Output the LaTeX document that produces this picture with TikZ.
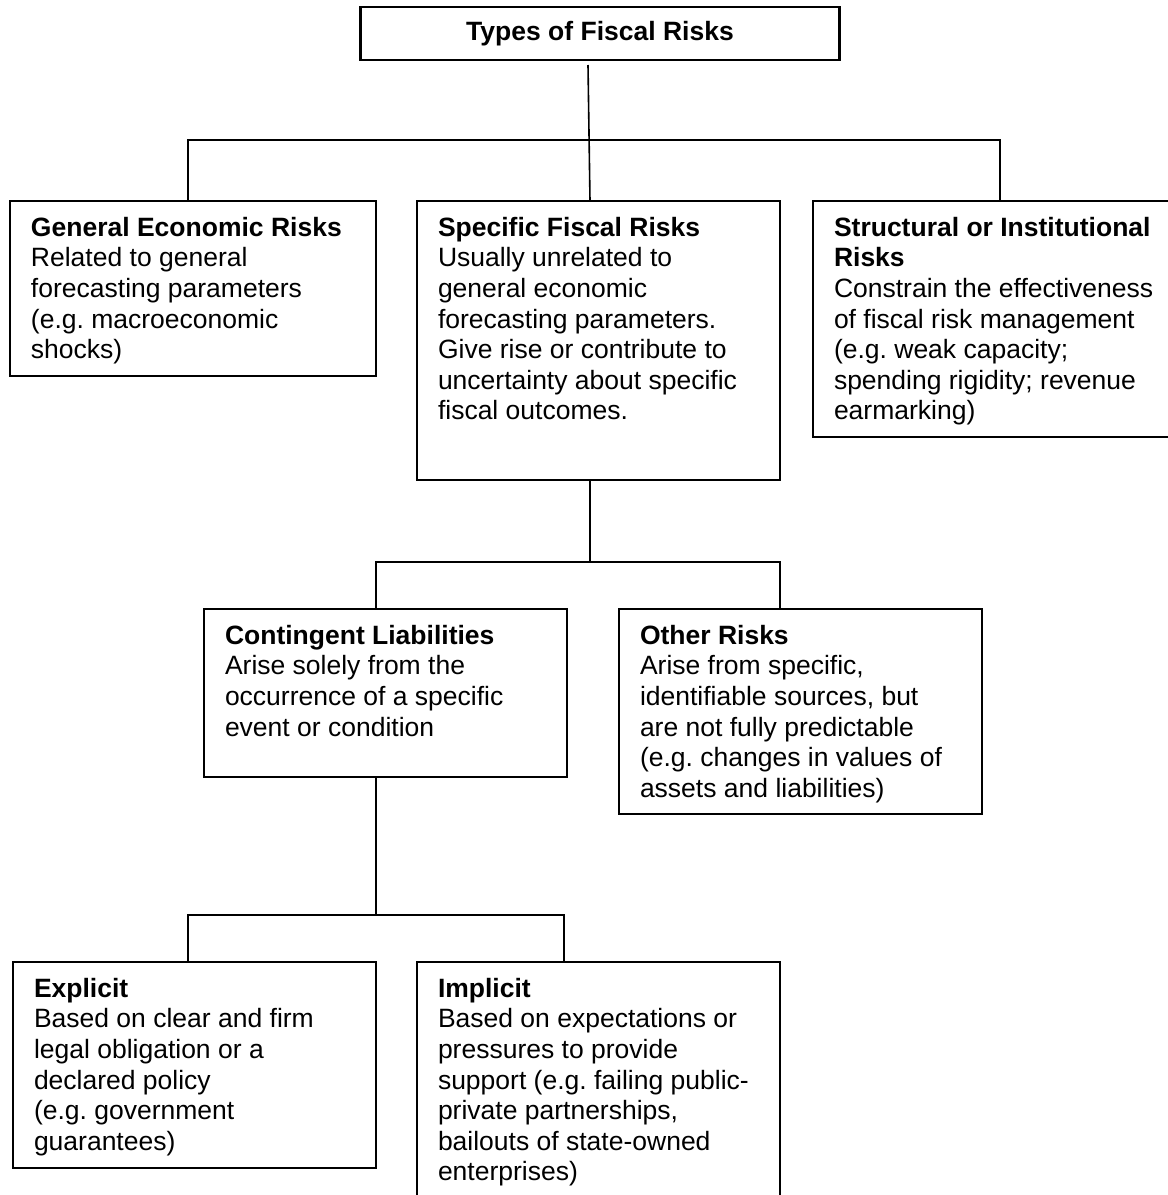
\documentclass[tikz,border=0pt]{standalone}
\usepackage{fontspec}
\setmainfont{Liberation Sans}
\usetikzlibrary{positioning, calc}
\frenchspacing

% box text: height, width, bold heading, body
\newcommand{\riskbody}[4]{\parbox[t][#1][t]{#2}{\raggedright\textbf{#3}\\#4}}

\begin{document}
\begin{tikzpicture}[
    x=1pt, y=1pt,
    font=\fontsize{13.25pt}{15.3pt}\selectfont,
    titlebox/.style={rectangle, draw, line width=1.1pt, outer sep=0pt, minimum width=239.5pt, minimum height=26.5pt, font=\fontsize{13.25pt}{15.3pt}\selectfont\bfseries},
    riskbox/.style={rectangle, draw, line width=1.1pt, outer sep=0pt, anchor=north west, inner xsep=10.5pt, inner ysep=8pt},
    link/.style={draw, line width=0.8pt}
]
    \fill[white] (0,0) rectangle (584,-597.5);
    \useasboundingbox (0,0) rectangle (584,-597.5);

    % Nodes
    \node[titlebox] (types) at (300,-16.75) {Types of Fiscal Risks};
    \node[riskbox, below=70.5pt of types, xshift=-0.75pt] (specific)
        {\riskbody{123.5pt}{160.5pt}{Specific Fiscal Risks}{Usually unrelated to\\general economic\\forecasting parameters.\\Give rise or contribute to\\uncertainty about specific\\fiscal outcomes.}};
    \node[riskbox, anchor=north east] (general) at ([xshift=-20.5pt]specific.north west)
        {\riskbody{71.5pt}{162pt}{General Economic Risks}{Related to general\\forecasting parameters\\(e.g. macroeconomic\\shocks)}};
    \node[riskbox] (structural) at ([xshift=16.5pt]specific.north east)
        {\riskbody{102pt}{169pt}{Structural or Institutional\\Risks}{Constrain the effectiveness\\of fiscal risk management\\(e.g. weak capacity;\\spending rigidity; revenue\\earmarking)}};
    \node[riskbox] (contingent) at ([xshift=-106.5pt, yshift=-64.5pt]specific.south west)
        {\riskbody{68pt}{160.5pt}{Contingent Liabilities}{Arise solely from the\\occurrence of a specific\\event or condition}};
    \node[riskbox] (other) at ([xshift=26pt]contingent.north east)
        {\riskbody{86.5pt}{160.5pt}{Other Risks}{Arise from specific,\\identifiable sources, but\\are not fully predictable\\(e.g. changes in values of\\assets and liabilities)}};
    \node[riskbox] (explicit) at ([xshift=-95.5pt, yshift=-92.5pt]contingent.south west)
        {\riskbody{87pt}{160.5pt}{Explicit}{Based on clear and firm\\legal obligation or a\\declared policy\\(e.g. government\\guarantees)}};
    \node[riskbox] (implicit) at ([xshift=20.5pt]explicit.north east)
        {\riskbody{114pt}{160.5pt}{Implicit}{Based on expectations or\\pressures to provide\\support (e.g. failing public-\\private partnerships,\\bailouts of state-owned\\enterprises)}};

    % Bus points
    \coordinate (topbus) at ([yshift=-40pt]types.south);
    \coordinate (midbus) at ([xshift=86.5pt, yshift=-41pt]specific.south west);
    \coordinate (lowbus) at ([xshift=86pt, yshift=-69pt]contingent.south west);

    % Lines
    \draw[link] ([xshift=-6pt, yshift=-2.5pt]types.south) -- ([xshift=-4.25pt]specific.north);
    \draw[link] ([xshift=89pt]general.north west) |- (topbus) -| ([xshift=93.5pt]structural.north west);
    \draw[link] ([xshift=86.5pt]specific.south west) -- (midbus);
    \draw[link] ([xshift=86pt]contingent.north west) |- (midbus) -| ([xshift=80.5pt]other.north west);
    \draw[link] ([xshift=86pt]contingent.south west) -- (lowbus);
    \draw[link] ([xshift=87.5pt]explicit.north west) |- (lowbus) -| ([xshift=73.5pt]implicit.north west);
\end{tikzpicture}
\end{document}
